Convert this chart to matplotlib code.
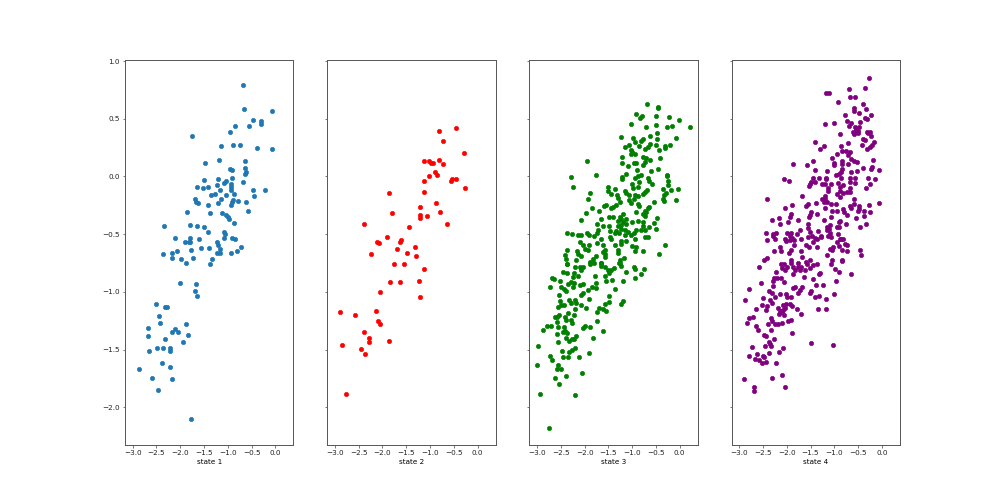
import numpy as np
import matplotlib
matplotlib.use("Agg")
import matplotlib.pyplot as plt

state_1 = [(-0.68,0.795),(-0.66,0.587),(-0.08,0.564),(-0.48,0.491),(-0.31,0.477),(-0.31,0.454),(-0.55,0.436),(-0.84,0.434),(-0.96,0.382),(-1.76,0.353),
(-1.14,0.26),(-0.90,0.269),(-0.75,0.277),(-0.38,0.243),(-0.07,0.24),(-1.48,0.118),(-1.19,0.142),(-0.63,0.133),(-0.64,0.075),(-0.95,0.066),
(-0.92,0.058),(-0.62,0.035),(-0.64,0.02),(-1.49,-0.029),(-1.21,-0.023),(-0.91,-0.014),(-1.04,-0.038),(-1.08,-0.058),(-0.68,-0.046),(-1.22,-0.078),
(-0.93,-0.066),(-1.65,-0.087),(-1.52,-0.104),(-1.41,-0.092),(-1.16,-0.118),(-0.94,-0.095),(-0.94,-0.118),(-0.48,-0.118),(-0.21,-0.121),(-1.36,-0.159),
(-1.26,-0.15),(-1.04,-0.159),(-0.86,-0.15),(-0.45,-0.165),(-1.69,-0.199),(-1.14,-0.194),(-0.88,-0.205),(-0.92,-0.225),(-0.78,-0.214),(-0.62,-0.223),
(-1.66,-0.22),(-1.62,-0.228),(-1.20,-0.234),(-0.94,-0.243),(-1.42,-0.251),(-1.85,-0.309),(-1.38,-0.315),(-1.13,-0.318),(-1.03,-0.332),(-0.99,-0.355),
(-0.97,-0.37),(-0.58,-0.298),(-0.87,-0.399),(-2.34,-0.425),(-1.79,-0.419),(-1.64,-0.425),(-1.49,-0.439),(-1.41,-0.477),(-1.09,-0.48),(-1.06,-0.497),
(-1.08,-0.529),(-0.92,-0.535),(-0.85,-0.546),(-2.11,-0.532),(-1.79,-0.529),(-1.60,-0.538),(-1.90,-0.572),(-1.81,-0.564),(-1.79,-0.572),(-1.23,-0.564),
(-1.21,-0.595),(-0.72,-0.607),(-1.77,-0.633),(-1.56,-0.624),(-1.40,-0.624),(-1.16,-0.63),(-2.07,-0.642),(-0.81,-0.647),(-2.36,-0.668),(-2.17,-0.662),
(-1.22,-0.659),(-1.16,-0.665),(-0.93,-0.659),(-2.18,-0.711),(-1.99,-0.714),(-1.73,-0.711),(-1.34,-0.717),(-1.87,-0.751),(-1.37,-0.757),(-2.0,-0.922),
(-1.66,-0.931),(-1.69,-0.994),(-1.64,-1.038),(-2.51,-1.104),(-2.31,-1.13),(-2.28,-1.13),(-2.45,-1.211),(-2.43,-1.266),(-1.87,-1.28),(-2.68,-1.315),
(-2.11,-1.318),(-2.17,-1.35),(-2.04,-1.347),(-2.68,-1.382),(-1.83,-1.376),(-2.32,-1.413),(-1.94,-1.434),(-2.48,-1.491),(-2.37,-1.486),(-2.21,-1.491),
(-2.22,-1.509),(-2.66,-1.514),(-2.38,-1.618),(-2.22,-1.653),(-2.87,-1.665),(-2.59,-1.751),(-2.17,-1.757),(-2.47,-1.85),(-1.78,-2.101)]

state_2 = [(-0.45,0.422),(-0.81,0.396),(-0.73,0.309),(-0.28,0.205),(-1.13,0.136),(-1.02,0.13),(-0.98,0.121),(-0.93,0.116),(-0.82,0.147),(-0.73,0.104),
(-0.90,0.038),(-0.86,0.017),(-1.03,0.006),(-1.13,-0.035),(-0.56,-0.038),(-0.53,-0.026),(-0.45,-0.026),(-0.26,-0.098),(-1.13,-0.133),(-1.87,-0.145),
(-0.88,-0.228),(-1.20,-0.266),(-0.78,-0.306),(-1.80,-0.315),(-1.20,-0.338),(-1.06,-0.341),(-1.21,-0.364),(-2.38,-0.416),(-0.65,-0.413),(-1.45,-0.436),
(-1.90,-0.526),(-2.11,-0.569),(-2.08,-0.575),(-1.60,-0.552),(-1.62,-0.566),(-1.32,-0.613),(-1.70,-0.63),(-1.48,-0.662),(-2.23,-0.676),(-1.29,-0.691),
(-1.76,-0.76),(-1.55,-0.76),(-1.13,-0.803),(-1.22,-0.902),(-1.83,-0.919),(-1.64,-0.919),(-2.06,-1.003),(-1.21,-1.049),(-2.13,-1.162),(-2.90,-1.179),
(-2.57,-1.197),(-2.10,-1.254),(-2.04,-1.275),(-2.38,-1.35),(-2.29,-1.402),(-2.29,-1.431),(-1.87,-1.422),(-2.85,-1.462),(-2.45,-1.497),(-2.37,-1.54),(-2.76,-1.884)]

state_3 = [(-0.68,0.627),(-0.45,0.604),(-0.46,0.59),(-0.91,0.538),(-0.79,0.52),(-0.84,0.509),(-0.50,0.52),(-0.22,0.512),(-0.01,0.486),(-1.02,0.451),
(-0.50,0.445),(-0.70,0.428),(-0.27,0.428),(-0.17,0.434),(0.22,0.425),(-0.48,0.373),(-0.62,0.35),(-1.24,0.338),(-0.99,0.335),(-0.78,0.329),
(-0.81,0.306),(-0.48,0.329),(-0.08,0.335),(-0.95,0.298),(-1.06,0.277),(-0.86,0.266),(-1.15,0.254),(-0.63,0.28),(-0.50,0.272),(-0.31,0.263),
(-0.20,0.269),(-0.67,0.257),(-0.74,0.234),(-0.44,0.228),(-0.31,0.251),(-1.03,0.228),(-1.0,0.208),(-0.95,0.191),(-1.02,0.191),(-1.22,0.165),
(-0.78,0.168),(-0.71,0.156),(-0.41,0.159),(-0.63,0.139),(-1.94,0.13),(-1.22,0.113),(-0.97,0.118),(-0.91,0.116),(-0.74,0.127),(-0.77,0.098),
(-1.09,0.092),(-0.45,0.064),(-0.90,0.055),(-0.60,0.049),(-1.76,0.017),(-1.12,0.023),(-2.28,-0.003),(-1.22,-0.003),(-1.22,-0.023),(-0.88,0.003),
(-0.82,0.009),(-0.93,-0.017),(-0.27,0.012),(-0.27,0.0),(-0.67,-0.017),(-0.64,-0.038),(-0.59,-0.061),(-0.86,-0.046),(-0.24,-0.043),(-0.25,-0.075),
(-2.25,-0.095),(-1.51,-0.092),(-1.01,-0.069),(-0.98,-0.098),(-0.87,-0.087),(-0.36,-0.107),(-0.19,-0.113),(-0.03,-0.107),(-1.37,-0.11),(-1.50,-0.124),
(-1.88,-0.139),(-1.15,-0.13),(-0.69,-0.118),(-0.74,-0.133),(-0.77,-0.153),(-1.44,-0.153),(-1.12,-0.147),(-0.28,-0.147),(-0.34,-0.162),(-1.32,-0.162),
(-1.06,-0.162),(-0.95,-0.162),(-0.88,-0.171),(-1.30,-0.185),(-1.92,-0.197),(-0.35,-0.191),(-0.08,-0.202),(-0.34,-0.214),(-1.07,-0.208),(-0.97,-0.199),
(-1.02,-0.228),(-0.88,-0.24),(-0.53,-0.225),(-1.34,-0.243),(-1.25,-0.22),(-1.59,-0.254),(-1.54,-0.251),(-1.40,-0.263),(-1.85,-0.277),(-0.85,-0.254),
(-0.64,-0.263),(-0.66,-0.277),(-1.44,-0.277),(-1.69,-0.298),(-0.74,-0.295),(-0.92,-0.312),(-0.71,-0.312),(-1.97,-0.318),(-1.20,-0.321),(-0.78,-0.329),
(-0.73,-0.341),(-1.48,-0.355),(-1.40,-0.355),(-1.26,-0.353),(-1.23,-0.37),(-1.13,-0.37),(-0.48,-0.358),(-2.07,-0.379),(-1.65,-0.367),(-1.30,-0.387),
(-1.20,-0.393),(-1.01,-0.393),(-0.88,-0.39),(-0.78,-0.396),(-0.54,-0.399),(-1.74,-0.408),(-1.62,-0.425),(-1.48,-0.425),(-1.12,-0.416),(-1.23,-0.422),
(-1.30,-0.431),(-0.78,-0.428),(-0.64,-0.439),(-0.50,-0.454),(-1.71,-0.46),(-1.47,-0.471),(-1.34,-0.471),(-1.24,-0.457),(-1.16,-0.465),(-1.09,-0.48),
(-0.92,-0.465),(-0.81,-0.465),(-0.74,-0.465),(-2.37,-0.488),(-2.26,-0.497),(-2.14,-0.503),(-2.07,-0.503),(-1.94,-0.491),(-1.91,-0.506),(-1.73,-0.494),
(-1.37,-0.488),(-1.27,-0.494),(-1.16,-0.503),(-0.97,-0.488),(-1.02,-0.509),(-0.74,-0.523),(-0.67,-0.523),(-1.80,-0.52),(-1.47,-0.523),(-1.66,-0.54),
(-1.44,-0.543),(-0.94,-0.546),(-1.23,-0.558),(-1.12,-0.558),(-2.10,-0.569),(-1.73,-0.575),(-2.04,-0.595),(-1.90,-0.595),(-1.35,-0.595),(-1.24,-0.581),
(-0.30,-0.592),(-1.62,-0.595),(-1.01,-0.601),(-0.92,-0.607),(-1.99,-0.63),(-2.15,-0.642),(-1.92,-0.639),(-2.36,-0.639),(-1.57,-0.633),(-1.62,-0.653),
(-1.30,-0.639),(-0.78,-0.642),(-0.94,-0.647),(-2.13,-0.668),(-2.42,-0.679),(-1.58,-0.671),(-0.43,-0.673),(-1.30,-0.662),(-2.39,-0.714),(-2.07,-0.688),
(-1.75,-0.688),(-1.57,-0.697),(-1.17,-0.705),(-2.19,-0.723),(-1.82,-0.717),(-1.26,-0.725),(-1.88,-0.74),(-1.66,-0.751),(-2.37,-0.76),(-1.26,-0.746),
(-2.36,-0.763),(-2.20,-0.789),(-2.10,-0.783),(-2.03,-0.783),(-2.07,-0.809),(-1.89,-0.763),(-1.80,-0.749),(-1.66,-0.754),(-1.65,-0.777),(-1.57,-0.789),
(-1.51,-0.812),(-1.48,-0.835),(-1.44,-0.812),(-1.38,-0.792),(-1.27,-0.749),(-1.24,-0.775),(-0.96,-0.783),(-0.94,-0.806),(-0.76,-0.806),(-1.13,-0.83),
(-0.82,-0.847),(-0.94,-0.876),(-2.46,-0.832),(-2.37,-0.835),(-2.22,-0.841),(-2.14,-0.864),(-2.24,-0.87),(-2.68,-0.876),(-2.64,-0.887),(-1.78,-0.864),
(-1.58,-0.864),(-1.56,-0.906),(-1.42,-0.899),(-1.20,-0.905),(-2.52,-0.905),(-2.29,-0.913),(-2.35,-0.934),(-2.22,-0.922),(-2.03,-0.931),(-2.10,-0.94),
(-1.77,-0.922),(-2.72,-0.957),(-2.50,-0.957),(-2.25,-0.957),(-1.84,-0.962),(-1.77,-0.971),(-2.43,-0.977),(-2.40,-0.997),(-1.93,-0.986),(-1.37,-0.977),
(-2.03,-1.006),(-2.08,-1.029),(-2.53,-1.026),(-1.48,-1.038),(-1.90,-1.064),(-2.33,-1.072),(-2.52,-1.081),(-2.20,-1.072),(-2.28,-1.095),(-1.20,-1.081),
(-1.24,-1.104),(-1.48,-1.092),(-1.57,-1.104),(-2.50,-1.11),(-2.43,-1.11),(-2.19,-1.1),(-2.08,-1.11),(-2.55,-1.13),(-2.21,-1.147),(-1.96,-1.136),
(-1.69,-1.142),(-1.62,-1.147),(-1.55,-1.165),(-1.73,-1.176),(-2.35,-1.185),(-2.22,-1.205),(-2.53,-1.202),(-2.63,-1.217),(-2.57,-1.217),(-2.41,-1.222),
(-2.29,-1.24),(-2.39,-1.246),(-2.57,-1.263),(-2.26,-1.274),(-1.73,-1.252),(-2.80,-1.292),(-2.70,-1.298),(-2.55,-1.303),(-2.43,-1.303),(-1.99,-1.292),
(-2.03,-1.315),(-1.88,-1.309),(-2.87,-1.335),(-2.42,-1.338),(-1.62,-1.338),(-2.59,-1.364),(-2.45,-1.347),(-2.36,-1.361),(-2.40,-1.396),(-2.17,-1.384),
(-2.22,-1.405),(-1.83,-1.402),(-2.27,-1.413),(-2.32,-1.428),(-2.55,-1.436),(-2.98,-1.468),(-2.21,-1.488),(-2.48,-1.509),(-2.26,-1.506),(-2.32,-1.52),
(-1.90,-1.526),(-2.73,-1.552),(-2.45,-1.567),(-2.34,-1.567),(-2.12,-1.567),(-2.68,-1.59),(-3.0,-1.63),(-2.56,-1.636),(-2.57,-1.67),(-2.50,-1.67),
(-2.38,-1.728),(-2.06,-1.702),(-2.63,-1.746),(-2.53,-1.803),(-2.94,-1.882),(-2.21,-1.896),(-2.74,-2.176)]

state_4 = [(-0.27,0.858),(-0.69,0.757),(-0.36,0.763),(-1.17,0.725),(-1.12,0.725),(-0.66,0.685),(-0.57,0.688),(-0.92,0.642),(-0.40,0.624),(-0.59,0.595),
(-0.34,0.587),(-0.59,0.564),(-0.48,0.552),(-0.77,0.529),(-0.22,0.532),(-0.36,0.506),(-0.31,0.5),(-0.73,0.483),(-0.45,0.474),(-0.64,0.46),
(-1.20,0.457),(-1.01,0.465),(-0.69,0.436),(-0.57,0.425),(-0.48,0.425),(-0.54,0.402),(-0.60,0.387),(-0.50,0.393),(-0.32,0.387),(-0.24,0.382),
(-0.59,0.37),(-0.51,0.373),(-0.29,0.373),(-0.87,0.364),(-0.22,0.353),(-0.40,0.327),(-0.35,0.318),(-1.41,0.295),(-0.71,0.286),(-0.17,0.298),
(-0.21,0.275),(-0.41,0.269),(-0.25,0.257),(-0.31,0.24),(-0.85,0.26),(-1.22,0.26),(-1.30,0.237),(-0.84,0.225),(-0.76,0.22),(-0.67,0.214),
(-0.95,0.191),(-0.72,0.185),(-1.04,0.162),(-0.65,0.153),(-0.84,0.136),(-0.19,0.147),(-0.58,0.133),(-0.53,0.124),(-1.45,0.133),(-1.0,0.118),
(-1.87,0.11),(-1.57,0.101),(-0.84,0.107),(-0.71,0.104),(-1.0,0.098),(-0.40,0.075),(-0.20,0.078),(-0.22,0.064),(-0.05,0.055),(-0.83,0.066),
(-1.41,0.052),(-1.16,0.049),(-0.53,0.049),(-0.64,0.035),(-0.86,0.04),(-0.90,0.02),(-0.96,0.009),(-1.44,-0.014),(-1.33,-0.017),(-1.17,-0.009),
(-2.06,-0.023),(-1.96,-0.04),(-0.86,-0.017),(-0.67,-0.009),(-0.57,-0.017),(-0.30,-0.014),(-0.15,-0.02),(-1.49,-0.046),(-1.41,-0.046),(-1.18,-0.023),
(-0.93,-0.055),(-0.67,-0.046),(-0.57,-0.055),(-1.52,-0.069),(-1.26,-0.064),(-1.20,-0.069),(-1.06,-0.069),(-0.81,-0.072),(-0.25,-0.066),(-1.54,-0.084),
(-0.88,-0.095),(-1.13,-0.104),(-0.66,-0.104),(-0.34,-0.104),(-1.13,-0.13),(-0.88,-0.124),(-0.74,-0.133),(-0.67,-0.133),(-0.81,-0.147),(-0.94,-0.156),
(-1.67,-0.165),(-1.19,-0.171),(-0.88,-0.176),(-2.42,-0.197),(-0.58,-0.194),(-1.26,-0.199),(-1.19,-0.199),(-1.16,-0.22),(-1.38,-0.228),(-1.21,-0.225),
(-0.06,-0.228),(-1.56,-0.24),(-1.06,-0.24),(-0.96,-0.24),(-0.58,-0.24),(-0.49,-0.254),(-0.27,-0.251),(-1.88,-0.251),(-1.59,-0.26),(-2.03,-0.272),
(-1.20,-0.269),(-0.67,-0.254),(-0.64,-0.277),(-0.81,-0.283),(-0.48,-0.286),(-1.05,-0.303),(-0.94,-0.303),(-0.79,-0.309),(-0.37,-0.303),(-0.24,-0.312),
(-0.50,-0.303),(-1.48,-0.309),(-1.52,-0.338),(-1.37,-0.329),(-1.91,-0.327),(-0.73,-0.335),(-1.08,-0.35),(-0.37,-0.344),(-2.17,-0.358),(-1.93,-0.353),
(-1.54,-0.355),(-2.31,-0.376),(-1.76,-0.373),(-1.22,-0.379),(-0.55,-0.364),(-0.91,-0.393),(-0.87,-0.39),(-1.97,-0.396),(-2.15,-0.416),(-1.55,-0.408),
(-1.09,-0.419),(-0.76,-0.413),(-0.34,-0.416),(-0.45,-0.436),(-1.16,-0.436),(-0.95,-0.439),(-0.91,-0.442),(-1.56,-0.448),(-1.73,-0.46),(-1.12,-0.457),
(-1.35,-0.471),(-1.51,-0.477),(-1.16,-0.468),(-2.44,-0.488),(-2.28,-0.497),(-2.22,-0.494),(-1.91,-0.486),(-1.99,-0.494),(-1.79,-0.497),(-1.10,-0.494),
(-0.92,-0.5),(-2.28,-0.517),(-1.93,-0.517),(-1.55,-0.523),(-1.47,-0.514),(-1.41,-0.532),(-1.27,-0.514),(-1.08,-0.523),(-2.42,-0.552),(-2.24,-0.538),
(-2.04,-0.538),(-1.88,-0.532),(-1.71,-0.543),(-0.88,-0.538),(-0.82,-0.538),(-2.02,-0.561),(-1.93,-0.549),(-1.85,-0.552),(-1.44,-0.572),(-1.36,-0.538),
(-1.27,-0.526),(-1.13,-0.52),(-0.85,-0.543),(-0.94,-0.572),(-0.77,-0.581),(-0.74,-0.595),(-1.84,-0.59),(-1.59,-0.595),(-1.53,-0.614),(-1.37,-0.614),
(-1.02,-0.61),(-0.91,-0.604),(-1.10,-0.63),(-1.05,-0.639),(-0.45,-0.633),(-2.14,-0.613),(-2.12,-0.642),(-2.27,-0.645),(-1.92,-0.639),(-1.96,-0.665),
(-1.69,-0.647),(-0.84,-0.639),(-0.74,-0.647),(-1.15,-0.682),(-0.43,-0.682),(-1.67,-0.7),(-2.42,-0.709),(-2.47,-0.72),(-1.05,-0.723),(-0.84,-0.723),
(-0.84,-0.737),(-1.91,-0.726),(-1.51,-0.726),(-1.59,-0.74),(-1.76,-0.749),(-2.13,-0.757),(-2.05,-0.757),(-1.91,-0.749),(-1.06,-0.757),(-1.57,-0.763),
(-1.37,-0.76),(-1.44,-0.769),(-2.59,-0.789),(-2.09,-0.792),(-2.0,-0.786),(-1.86,-0.786),(-1.76,-0.783),(-1.69,-0.789),(-1.51,-0.792),(-0.99,-0.798),
(-2.03,-0.809),(-1.83,-0.812),(-1.72,-0.812),(-1.62,-0.812),(-2.23,-0.827),(-0.91,-0.824),(-1.30,-0.835),(-1.86,-0.844),(-1.33,-0.844),(-0.64,-0.847),
(-1.64,-0.873),(-2.12,-0.876),(-1.44,-0.89),(-2.27,-0.876),(-2.21,-0.879),(-2.28,-0.902),(-2.06,-0.913),(-0.96,-0.905),(-2.55,-0.925),(-2.29,-0.951),
(-1.38,-0.945),(-1.23,-0.939),(-1.86,-0.965),(-1.82,-0.962),(-1.67,-0.956),(-2.80,-0.974),(-1.72,-0.98),(-2.38,-0.994),(-1.48,-0.991),(-1.76,-1.009),
(-1.52,-1.006),(-2.30,-1.006),(-2.14,-1.020),(-2.01,-1.023),(-1.0,-1.023),(-1.41,-1.043),(-1.32,-1.032),(-2.24,-1.046),(-1.99,-1.049),(-1.92,-1.043),
(-2.50,-1.052),(-1.17,-1.058),(-2.87,-1.075),(-2.36,-1.075),(-2.30,-1.093),(-2.51,-1.113),(-2.42,-1.121),(-1.94,-1.107),(-2.07,-1.116),(-2.02,-1.107),
(-2.65,-1.145),(-2.43,-1.159),(-2.19,-1.142),(-2.03,-1.139),(-1.90,-1.127),(-1.79,-1.145),(-1.34,-1.145),(-1.17,-1.145),(-2.14,-1.162),(-2.07,-1.159),
(-2.17,-1.188),(-2.10,-1.179),(-1.69,-1.191),(-2.05,-1.205),(-2.80,-1.225),(-2.71,-1.219),(-2.33,-1.228),(-2.31,-1.251),(-1.98,-1.249),(-1.91,-1.246),
(-2.84,-1.274),(-2.39,-1.28),(-2.24,-1.283),(-2.19,-1.283),(-2.09,-1.266),(-2.65,-1.295),(-2.61,-1.327),(-2.34,-1.327),(-1.89,-1.358),(-2.47,-1.373),
(-2.43,-1.379),(-2.27,-1.408),(-2.37,-1.434),(-1.50,-1.442),(-1.02,-1.462),(-2.36,-1.454),(-2.73,-1.474),(-2.45,-1.468),(-2.34,-1.468),(-2.08,-1.483),
(-2.16,-1.52),(-2.38,-1.526),(-2.79,-1.555),(-2.63,-1.541),(-2.49,-1.552),(-2.66,-1.578),(-2.47,-1.569),(-2.59,-1.592),(-2.53,-1.613),(-2.44,-1.604),
(-2.22,-1.616),(-2.09,-1.723),(-2.89,-1.754),(-2.31,-1.751),(-2.03,-1.821),(-2.69,-1.824),(-2.68,-1.861)]

series = [state_1, state_2, state_3, state_4]
labels = ["state 1", "state 2", "state 3", "state 4"]
colors = ["tab:blue", "red", "green", "purple"]
x_ticks = [-3.0, -2.5, -2.0, -1.5, -1.0, -0.5, 0.0]
y_ticks = [-2.0, -1.5, -1.0, -0.5, 0.0, 0.5, 1.0]

fig, axes = plt.subplots(1, 4, figsize=(10, 5), dpi=100, sharex=True, sharey=True)
for ax, pts, label, color in zip(axes, series, labels, colors):
    x, y = np.array(pts).T
    ax.scatter(x, y, s=10, color=color, linewidths=0.4)
    ax.set_xlabel(label, fontsize=5.2, labelpad=2)
    ax.tick_params(labelsize=5.2, length=1.8, width=0.5, pad=1.8, color="#444444", labelcolor="#222222")
    for spine in ax.spines.values():
        spine.set_linewidth(0.7)
        spine.set_color("#555555")
axes[0].set_xticks(x_ticks)
axes[0].set_yticks(y_ticks)
fig.savefig("out.png", dpi=100)
